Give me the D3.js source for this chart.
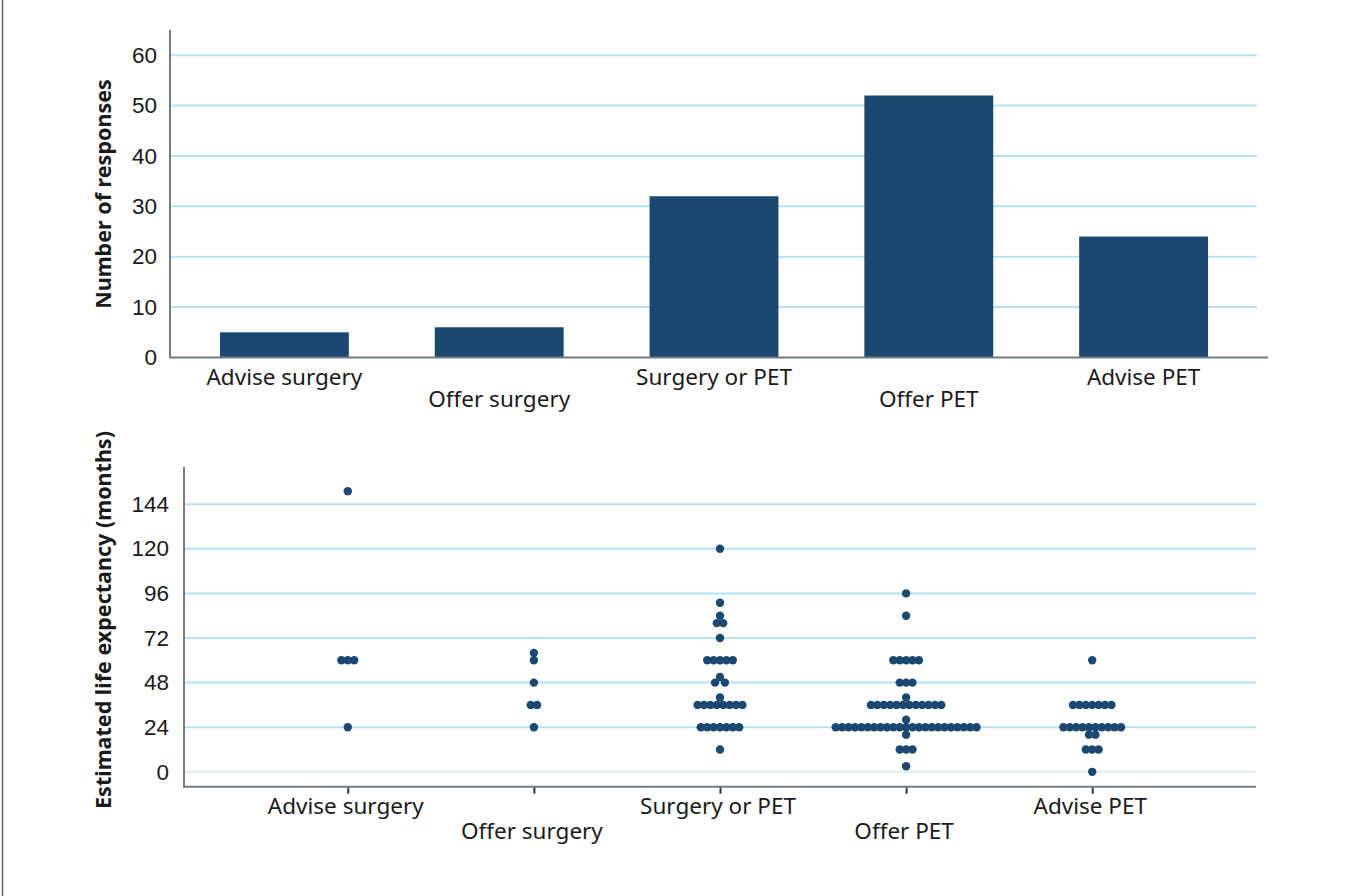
<!DOCTYPE html>
<html lang="en">
<head>
<meta charset="UTF-8">
<title>Responses and life expectancy</title>
<script src="https://d3js.org/d3.v7.min.js"></script>
<style>
    body { margin: 0; background: #fff; }
    svg { display: block; font-family: "Noto Sans", sans-serif; }
    .tick text { font-size: 22.5px; fill: #1a1a1a; }
    .axis-title { font-size: 21.5px; font-weight: bold; fill: #1a1a1a; }
    .cat-label { font-size: 22.5px; fill: #1a1a1a; }
</style>
</head>
<body>
<svg id="chart" width="1362" height="896"></svg>
<script>
    // data
    var categories = ["Advise surgery", "Offer surgery", "Surgery or PET", "Offer PET", "Advise PET"];
    var responses = [5, 6, 32, 52, 24];
    var countTicks = [0, 10, 20, 30, 40, 50, 60];
    var monthTicks = [0, 24, 48, 72, 96, 120, 144];

    var adviseSurgeryMonths = [151, 60, 60, 60, 24];
    var offerSurgeryMonths = [64, 60, 48, 36, 36, 24];
    var surgeryOrPetMonths = [120, 91, 84, 80, 80, 72, 60, 60, 60, 60, 60, 51, 48, 48, 40,
        36, 36, 36, 36, 36, 36, 36, 36, 24, 24, 24, 24, 24, 24, 24, 12];
    var offerPetMonths = [96, 84, 60, 60, 60, 60, 60, 48, 48, 48, 40,
        36, 36, 36, 36, 36, 36, 36, 36, 36, 36, 36, 36, 28,
        24, 24, 24, 24, 24, 24, 24, 24, 24, 24, 24, 24, 24, 24, 24, 24, 24, 24, 24, 24, 24, 24, 24,
        20, 12, 12, 12, 3];
    var advisePetMonths = [60, 36, 36, 36, 36, 36, 36, 36,
        24, 24, 24, 24, 24, 24, 24, 24, 24, 24, 20, 20, 12, 12, 12, 0];
    var monthsByCategory = [adviseSurgeryMonths, offerSurgeryMonths, surgeryOrPetMonths, offerPetMonths, advisePetMonths];

    var barColor = "#1b4870";
    var gridColor = "#b5e1f6";
    var axisColor = "#737d88";

    var svg = d3.select("#chart");

    // left frame line
    svg.append("line")
        .attr("x1", 2.5).attr("x2", 2.5).attr("y1", 0).attr("y2", 896)
        .attr("stroke", "#666").attr("stroke-width", 1.5);

    // ---------- top: bar chart ----------
    var x1 = d3.scaleBand().domain(categories).range([177, 1251]).paddingInner(0.4).paddingOuter(0.2);
    var y1 = d3.scaleLinear().domain([0, 65]).range([357.5, 30]);

    var barChart = svg.append("g");

    barChart.selectAll("line.grid")
        .data(countTicks.filter(function (d) { return d > 0; }))
        .enter().append("line")
        .attr("class", "grid")
        .attr("x1", 170).attr("x2", 1257)
        .attr("y1", function (d) { return y1(d); })
        .attr("y2", function (d) { return y1(d); })
        .attr("stroke", gridColor).attr("stroke-width", 2);

    barChart.selectAll("rect")
        .data(responses)
        .enter().append("rect")
        .attr("x", function (d, i) { return x1(categories[i]); })
        .attr("width", x1.bandwidth())
        .attr("y", function (d) { return y1(d); })
        .attr("height", function (d) { return y1(0) - y1(d); })
        .attr("fill", barColor);

    var yAxis1 = barChart.append("g")
        .attr("transform", "translate(170,0)")
        .call(d3.axisLeft(y1).tickValues(countTicks).tickSize(0).tickPadding(13));
    yAxis1.select(".domain").remove();

    barChart.append("path")
        .attr("d", "M" + 170 + "," + y1(65) + "V" + y1(0) + "H" + 1268)
        .attr("fill", "none").attr("stroke", axisColor).attr("stroke-width", 2);

    barChart.selectAll("text.cat-label")
        .data(categories)
        .enter().append("text")
        .attr("class", "cat-label")
        .attr("text-anchor", "middle")
        .attr("x", function (d) { return x1(d) + x1.bandwidth() / 2; })
        .attr("y", function (d, i) { return i % 2 === 0 ? 385 : 407; })
        .text(function (d) { return d; });

    barChart.append("text")
        .attr("class", "axis-title")
        .attr("text-anchor", "middle")
        .attr("dominant-baseline", "central")
        .attr("transform", "translate(102,194) rotate(-90)")
        .text("Number of responses");

    // ---------- bottom: dot plot ----------
    var x2 = d3.scalePoint().domain(categories).range([184, 1256]).padding(0.88);
    var y2 = d3.scaleLinear().domain([-8, 164]).range([786.7, 467]);

    var dotChart = svg.append("g");

    dotChart.selectAll("line.grid")
        .data(monthTicks)
        .enter().append("line")
        .attr("class", "grid")
        .attr("x1", 184).attr("x2", 1256)
        .attr("y1", function (d) { return y2(d); })
        .attr("y2", function (d) { return y2(d); })
        .attr("stroke", function (d) { return d === 0 ? "#e4ebee" : gridColor; })
        .attr("stroke-width", 2);

    var yAxis2 = dotChart.append("g")
        .attr("transform", "translate(184,0)")
        .call(d3.axisLeft(y2).tickValues(monthTicks).tickSize(0).tickPadding(15));
    yAxis2.select(".domain").remove();

    var xAxis2 = dotChart.append("g")
        .attr("transform", "translate(0," + y2(-8) + ")")
        .call(d3.axisBottom(x2).tickSize(7).tickFormat(""));
    xAxis2.select(".domain").remove();
    xAxis2.selectAll(".tick line").attr("stroke", "#333").attr("stroke-width", 2);

    dotChart.append("path")
        .attr("d", "M" + 184 + "," + y2(164) + "V" + y2(-8) + "H" + 1256)
        .attr("fill", "none").attr("stroke", axisColor).attr("stroke-width", 2);

    // spread dots that share a value into centred rows, widening a row if it hits a dot above it
    var rowStep = 6.4, minDist = 7.3;
    function spread(values) {
        var rows = d3.groups(values, function (d) { return d; })
            .sort(function (a, b) { return b[0] - a[0]; });
        var placed = [];
        rows.forEach(function (row) {
            var n = row[1].length, y = y2(row[0]), gap = rowStep, offs;
            while (true) {
                offs = d3.range(n).map(function (i) { return (i - (n - 1) / 2) * gap; });
                var hit = n > 1 && offs.some(function (o) {
                    return placed.some(function (p) { return Math.hypot(p.dx - o, p.y - y) < minDist; });
                });
                if (!hit) break;
                gap += 0.5;
            }
            offs.forEach(function (o) { placed.push({ dx: o, y: y, v: row[0] }); });
        });
        return placed;
    }

    monthsByCategory.forEach(function (vals, i) {
        var cx = x2(categories[i]);
        dotChart.append("g").selectAll("circle")
            .data(spread(vals))
            .enter().append("circle")
            .attr("cx", function (d) { return cx + d.dx; })
            .attr("cy", function (d) { return d.y; })
            .attr("r", 4.2)
            .attr("fill", barColor);
    });

    dotChart.selectAll("text.cat-label")
        .data(categories)
        .enter().append("text")
        .attr("class", "cat-label")
        .attr("text-anchor", "middle")
        .attr("x", function (d) { return x2(d) - 2; })
        .attr("y", function (d, i) { return i % 2 === 0 ? 814 : 839; })
        .text(function (d) { return d; });

    dotChart.append("text")
        .attr("class", "axis-title")
        .attr("text-anchor", "middle")
        .attr("dominant-baseline", "central")
        .attr("transform", "translate(102,620) rotate(-90)")
        .text("Estimated life expectancy (months)");
</script>
</body>
</html>
